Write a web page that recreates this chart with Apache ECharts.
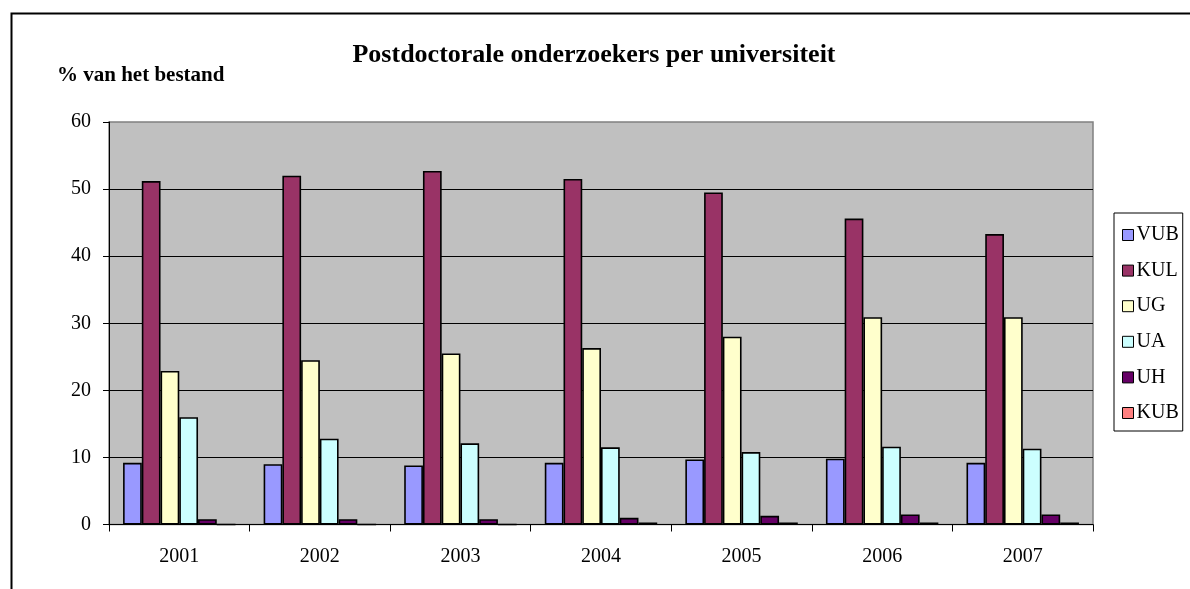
<!DOCTYPE html>
<html>
<head>
<meta charset="utf-8">
<title>Postdoctorale onderzoekers per universiteit</title>
<script src="https://cdn.jsdelivr.net/npm/echarts@6/dist/echarts.min.js"></script>
<style>
	html, body { margin: 0; padding: 0; background: #fff; }
	#chart { width: 1190px; height: 589px; }
</style>
</head>
<body>
<div id="chart"></div>
<script>
'use strict';

// jaren (categorieen)
var years = ['2001', '2002', '2003', '2004', '2005', '2006', '2007'];

// % van het bestand per universiteit
var vub = [9.2, 9.0, 8.8, 9.2, 9.7, 9.8, 9.2];
var kul = [51.2, 52.0, 52.7, 51.5, 49.5, 45.6, 43.3];
var ug = [22.9, 24.5, 25.5, 26.3, 28.0, 30.9, 30.9];
var ua = [16.0, 12.8, 12.1, 11.5, 10.8, 11.6, 11.3];
var uh = [0.8, 0.8, 0.8, 1.0, 1.3, 1.5, 1.5];
var kub = [0, 0, 0, 0.3, 0.3, 0.3, 0.3];

var seriesNames = ['VUB', 'KUL', 'UG', 'UA', 'UH', 'KUB'];
var seriesData = [vub, kul, ug, ua, uh, kub];
var colorList = ['#9999FF', '#993366', '#FFFFCC', '#CCFFFF', '#660066', '#FF8080'];

var yTicks = { min: 0, max: 60, interval: 10 };

var serif = '"Liberation Serif", "Times New Roman", serif';

var chart = echarts.init(document.getElementById('chart'), null, { renderer: 'canvas' });

var series = [];
seriesNames.forEach(function (name, index) {
	series.push({
		name: name,
		type: 'bar',
		barGap: 0,
		barCategoryGap: '20%',
		itemStyle: {
			color: colorList[index],
			borderColor: '#000',
			borderWidth: 1.6
		},
		emphasis: { disabled: true },
		data: seriesData[index]
	});
});

chart.setOption({
	animation: false,
	color: colorList,
	textStyle: { fontFamily: serif },
	title: {
		text: 'Postdoctorale onderzoekers per universiteit',
		left: 589,
		top: 37,
		textAlign: 'center',
		textStyle: {
			fontFamily: serif,
			fontWeight: 'bold',
			fontSize: 26,
			color: '#000'
		}
	},
	legend: {
		orient: 'vertical',
		left: 1114,
		top: 213,
		padding: [12, 4, 8, 8],
		itemGap: 15.6,
		itemWidth: 11,
		itemHeight: 11,
		icon: 'rect',
		borderColor: '#000',
		borderWidth: 1,
		itemStyle: { borderColor: '#000', borderWidth: 1 },
		textStyle: { fontFamily: serif, fontSize: 20, color: '#000', padding: [0, 0, 0, -2] },
		data: seriesNames
	},
	grid: {
		left: 109,
		top: 122,
		width: 984,
		height: 402.5,
		show: true,
		backgroundColor: '#C0C0C0',
		borderColor: '#808080',
		borderWidth: 1.5,
		containLabel: false
	},
	xAxis: {
		type: 'category',
		data: years,
		axisLine: { lineStyle: { color: '#000', width: 1 } },
		axisTick: { show: true, inside: false, length: 7, lineStyle: { color: '#000' } },
		axisLabel: { color: '#000', fontSize: 20, fontFamily: serif, margin: 22 }
	},
	yAxis: {
		type: 'value',
		min: yTicks.min,
		max: yTicks.max,
		interval: yTicks.interval,
		name: '% van het bestand',
		nameLocation: 'end',
		nameGap: 0,
		nameTextStyle: {
			fontFamily: serif,
			fontWeight: 'bold',
			fontSize: 21,
			color: '#000',
			align: 'left',
			padding: [0, 0, 36, -52]
		},
		axisLine: { show: true, lineStyle: { color: '#000', width: 1 } },
		axisTick: { show: true, inside: false, length: 6, lineStyle: { color: '#000' } },
		axisLabel: { color: '#000', fontSize: 20, fontFamily: serif, margin: 18 },
		splitLine: {
			show: true,
			showMaxLine: false,
			lineStyle: { color: '#000', width: 1 }
		}
	},
	graphic: [
		{
			// kader rond de grafiek
			type: 'rect',
			left: 9,
			top: 11,
			shape: { width: 1250, height: 650 },
			style: { fill: null, stroke: '#000', lineWidth: 2 },
			silent: true
		}
	],
	series: series
});
</script>
</body>
</html>
